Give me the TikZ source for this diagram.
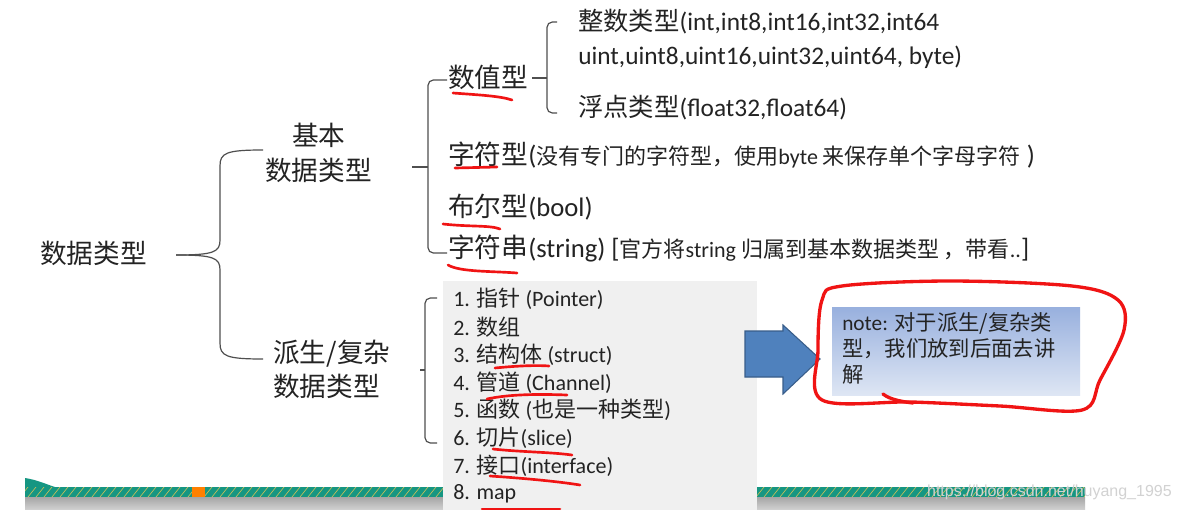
\documentclass[tikz,border=0pt]{standalone}
\usepackage{fontspec}
\setmainfont{Carlito}
\newfontfamily\cjk{Noto Sans CJK SC}
\newfontfamily\wmfont{Liberation Sans}
\newcommand\zh[1]{{\cjk #1}}
\newcommand\fsz[1]{\fontsize{#1}{#1}\selectfont}
\definecolor{arrowblue}{RGB}{79,129,189}
\definecolor{arrowedge}{RGB}{56,93,138}
\definecolor{notetop}{RGB}{152,176,222}
\definecolor{notebot}{RGB}{222,230,244}
\definecolor{panel}{RGB}{240,240,240}
\definecolor{teal}{RGB}{22,150,130}
\definecolor{hatch}{RGB}{200,190,90}
\definecolor{inkred}{RGB}{240,20,20}
\definecolor{ink}{RGB}{35,35,35}
\tikzset{
  lbl/.style={anchor=west, inner sep=0pt, text=ink},
  brace/.style={draw=ink!80, line width=0.9pt, rounded corners=5pt},
  redline/.style={draw=inkred, line width=2pt, line cap=round},
}
\begin{document}
\begin{tikzpicture}[x=0.75pt,y=-0.75pt]
\useasboundingbox (0,0) rectangle (1181,510);
\fill[white] (0,0) rectangle (1181,510);

% bottom stripe
\fill[teal] (25,487) rectangle (1085,497);
\fill[teal] (25,478) .. controls (38,480) and (48,485) .. (55,487) -- (25,487) -- cycle;
\begin{scope}
\clip (25,487) rectangle (1085,497);
\foreach \i in {20,28,...,1090} {\draw[hatch, line width=0.5pt] (\i,497) -- (\i+8,487);}
\end{scope}
\fill[orange] (192,487) rectangle (205,497);
\shade[top color=gray!70, bottom color=gray!35] (25,497) rectangle (1085,510);

% derived list panel
\fill[panel] (443,281) rectangle (757,510);

% level 1
\node[lbl, font=\fsz{20}] (root) at (40,253) {\zh{数据类型}};
\node[lbl, font=\fsz{20}] (basic1) at (292,135) {\zh{基本}};
\node[lbl, font=\fsz{20}] (basic2) at (265,170) {\zh{数据类型}};
\node[lbl, font=\fsz{20}] (der1) at (273,354) {\zh{派生/复杂}};
\node[lbl, font=\fsz{20}] (der2) at (273,386) {\zh{数据类型}};

\coordinate (b1tip) at (176,255);
\coordinate (b1top) at (263,150);
\coordinate (b1bot) at (263,359);
\draw[draw=ink!80, line width=0.9pt] (b1top) .. controls (226,150) and (220,153) .. (220,166) -- (220,240) .. controls (220,252) and (214,255) .. (b1tip);
\draw[draw=ink!80, line width=0.9pt] (b1bot) .. controls (226,359) and (220,356) .. (220,343) -- (220,270) .. controls (220,258) and (214,255) .. (b1tip);

% basic types
\node[lbl, font=\fsz{20}] (num) at (448,77) {\zh{数值型}};
\node[lbl, font=\fsz{19}] (int1) at (578,22) {\zh{整数类型}(int,int8,int16,int32,int64};
\node[lbl, font=\fsz{19}] (int2) at (578,57) {uint,uint8,uint16,uint32,uint64, byte)};
\node[lbl, font=\fsz{19}] (flt) at (578,108) {\zh{浮点类型}(float32,float64)};
\node[lbl] (chr) at (448,155) {\fsz{20}\zh{字符型}(\fsz{16.5}\zh{没有专门的字符型，使用}byte \zh{来保存单个字母字符}\fsz{20}\ )};
\node[lbl, font=\fsz{20}] (bool) at (448,207) {\zh{布尔型}(bool)};
\node[lbl] (str) at (448,248) {\fsz{20}\zh{字符串}(string) [\fsz{16.5}\zh{官方将}string \zh{归属到基本数据类型 ，带看}..\fsz{20}]};

\coordinate (b2tip) at (412,167);
\draw[brace, rounded corners=4pt] (447,80) -- (428,80) -- (428,253) -- (447,253);
\draw[brace, rounded corners=4pt] (b2tip) -- (428,167);

\coordinate (b3tip) at (532,78);
\draw[brace, rounded corners=4pt] (557,22) -- (547,22) -- (547,113) -- (557,113);
\draw[brace, rounded corners=3pt] (b3tip) -- (547,78);

% derived list
\node[lbl, font=\fsz{16.5}] (d1) at (453,299) {1. \zh{指针} (Pointer)};
\node[lbl, font=\fsz{16.5}] (d2) at (453,327) {2. \zh{数组}};
\node[lbl, font=\fsz{16.5}] (d3) at (453,355) {3. \zh{结构体} (struct)};
\node[lbl, font=\fsz{16.5}] (d4) at (453,383) {4. \zh{管道} (Channel)};
\node[lbl, font=\fsz{16.5}] (d5) at (453,410) {5. \zh{函数} (\zh{也是一种类型})};
\node[lbl, font=\fsz{16.5}] (d6) at (453,438) {6. \zh{切片}(slice)};
\node[lbl, font=\fsz{16.5}] (d7) at (453,466) {7. \zh{接口}(interface)};
\node[lbl, font=\fsz{16.5}] (d8) at (453,494) {8. map};

\coordinate (b4tip) at (420,370);
\draw[brace, rounded corners=4pt] (437,298) -- (425,298) -- (425,443) -- (437,443);
\draw[brace, rounded corners=3pt] (b4tip) -- (425,370);

% red underlines
\draw[redline] (453,93) .. controls (480,95) and (500,96) .. (512,100);
\draw[redline] (455,168) -- (497,167);
\draw[redline] (443,224) .. controls (470,227) and (490,225) .. (500,229);
\draw[redline] (448,265) .. controls (460,272) and (490,271) .. (517,273);
\draw[redline] (495,368) .. controls (515,366) and (535,365) .. (549,366);
\draw[redline] (487,399) .. controls (510,394) and (540,394) .. (567,395);
\draw[redline] (493,449) .. controls (520,452) and (550,452) .. (572,455);
\draw[redline] (490,476) .. controls (520,478) and (555,481) .. (580,485);
\draw[redline] (482,509) -- (560,509);

% arrow
\draw[fill=arrowblue, draw=arrowedge, line width=0.8pt] (745,331) -- (783,331) -- (783,325) -- (820,359) -- (783,394) -- (783,377) -- (745,377) -- cycle;

% note
\shade[top color=notetop, bottom color=notebot] (832,307) rectangle (1080,395);
\node[lbl, font=\fontsize{16}{19.5}\selectfont, align=left, anchor=north west] (note) at (842,312) {note: \zh{对于派生/复杂类}\\\zh{型，我们放到后面去讲}\\\zh{解}};

\draw[inkred, line width=2.5pt, line cap=round, line join=round] plot[smooth cycle, tension=0.55] coordinates {(822,300) (842,286) (950,281) (1072,286) (1118,300) (1124,330) (1100,380) (1082,410) (1000,406) (912,402) (822,400) (818,350)};
\draw[inkred, line width=2.5pt, line cap=round] (883,394) .. controls (890,400) and (905,402) .. (913,403);

% watermark
\node[lbl, anchor=east, font=\fontsize{12}{12}\selectfont\wmfont, text=gray!35] (wm) at (1172,492) {https://blog.csdn.net/huyang\_1995};
\end{tikzpicture}
\end{document}
